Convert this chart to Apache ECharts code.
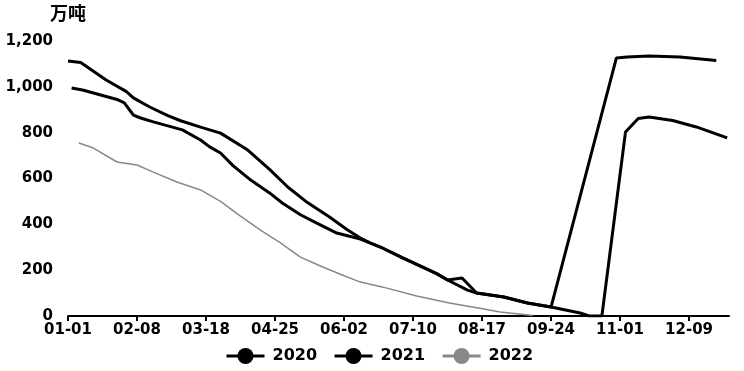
<!DOCTYPE html>
<html>
<head>
<meta charset="utf-8">
<script src="https://cdn.jsdelivr.net/npm/echarts@6/dist/echarts.min.js"></script>
<style>
html,body{margin:0;padding:0;background:#fff;}
#chart{width:744px;height:371px;}
</style>
</head>
<body>
<div id="chart"></div>
<script>
// Day-of-year categories (non-leap year), "MM-DD"
var monthDays = [31,28,31,30,31,30,31,31,30,31,30,31];
var categories = [];
for (var m = 0; m < 12; m++) {
  for (var d = 1; d <= monthDays[m]; d++) {
    categories.push((m < 9 ? '0' : '') + (m + 1) + '-' + (d < 10 ? '0' : '') + d);
  }
}
var seriesNames = ['2020', '2021', '2022'];
var yTicks = [0, 200, 400, 600, 800, 1000, 1200];

var data2020 = [
  ['01-01',1113],['01-08',1106],['01-22',1030],['02-02',980],['02-06',952],['02-15',912],
  ['02-25',874],['03-04',852],['03-15',824],['03-26',798],['04-10',724],['04-22',640],
  ['05-02',563],['05-12',500],['05-25',432],['06-04',375],['06-11',340],['06-16',320],
  ['06-22',301],['07-04',255],['07-23',185],['07-29',157],['08-06',166],['08-14',100],
  ['08-29',83],['09-11',57],['09-24',39],['10-30',1126],['11-05',1130],['11-17',1135],
  ['12-04',1130],['12-24',1115]
];
var data2021 = [
  ['01-03',995],['01-09',986],['01-28',945],['02-01',930],['02-06',877],['02-10',864],
  ['02-17',847],['03-05',812],['03-15',768],['03-20',738],['03-26',711],['04-02',655],
  ['04-11',597],['04-22',537],['04-29',493],['05-09',442],['05-18',405],['05-29',362],
  ['06-05',348],['06-11',336],['06-16',320],['06-22',301],['07-04',255],['07-23',185],
  ['07-29',157],['08-09',113],['08-14',100],['08-29',83],['09-11',57],['09-24',39],
  ['10-10',13],['10-15',0],['10-22',0],['11-04',803],['11-11',862],['11-17',868],
  ['11-30',853],['12-13',825],['12-30',777]
];
var data2022 = [
  ['01-07',755],['01-15',733],['01-28',672],['02-08',659],['02-17',628],['03-02',585],
  ['03-15',550],['03-26',500],['04-05',441],['04-17',375],['04-28',319],['05-09',257],
  ['05-20',218],['05-31',182],['06-11',148],['06-23',127],['07-12',87],['07-30',57],
  ['08-18',31],['08-27',17],['09-14',2]
];

function toSeries(pairs) {
  var arr = categories.map(function(){ return null; });
  pairs.forEach(function(p){ arr[categories.indexOf(p[0])] = p[1]; });
  return arr;
}

var FONT = 'DejaVu Sans';
var chart = echarts.init(document.getElementById('chart'), null, {renderer: 'canvas'});
chart.setOption({
  animation: false,
  backgroundColor: '#fff',
  grid: {left: 68, right: 15, top: 41, bottom: 55, containLabel: false},
  legend: {
    left: 220, top: 343,
    itemWidth: 38, itemHeight: 20, itemGap: 16,
    lineStyle: {width: 3},
    textStyle: {fontFamily: FONT, fontSize: 16, fontWeight: 'bold', color: '#000', padding: [0,0,0,3]},
    data: seriesNames
  },
  xAxis: {
    type: 'category',
    data: categories,
    boundaryGap: false,
    axisLine: {lineStyle: {color: '#000', width: 2}},
    axisTick: {interval: 37, length: 5, lineStyle: {color: '#000', width: 2}},
    axisLabel: {interval: 37, margin: 7, color: '#000', fontFamily: FONT, fontSize: 15, fontWeight: 'bold'},
    splitLine: {show: false}
  },
  yAxis: {
    type: 'value',
    min: yTicks[0], max: yTicks[yTicks.length - 1], interval: 200,
    name: '万吨',
    nameLocation: 'end',
    nameGap: 19,
    nameTextStyle: {fontFamily: 'Noto Sans CJK SC', fontSize: 18, fontWeight: 'bold', color: '#000', align: 'center', verticalAlign: 'bottom'},
    axisLine: {show: false},
    axisTick: {show: false},
    splitLine: {show: false},
    axisLabel: {
      margin: 15, color: '#000', fontFamily: FONT, fontSize: 15, fontWeight: 'bold',
      formatter: function(v){ return String(v).replace(/\B(?=(\d{3})+(?!\d))/g, ','); }
    }
  },
  series: [
    {name: seriesNames[0], type: 'line', data: toSeries(data2020), connectNulls: true, showSymbol: false, symbol: 'circle',
     itemStyle: {color: '#000'}, lineStyle: {color: '#000', width: 3}},
    {name: seriesNames[1], type: 'line', data: toSeries(data2021), connectNulls: true, showSymbol: false, symbol: 'circle',
     itemStyle: {color: '#000'}, lineStyle: {color: '#000', width: 3}},
    {name: seriesNames[2], type: 'line', data: toSeries(data2022), connectNulls: true, showSymbol: false, symbol: 'circle',
     itemStyle: {color: '#888'}, lineStyle: {color: '#888', width: 1.5}}
  ]
});
</script>
</body>
</html>
